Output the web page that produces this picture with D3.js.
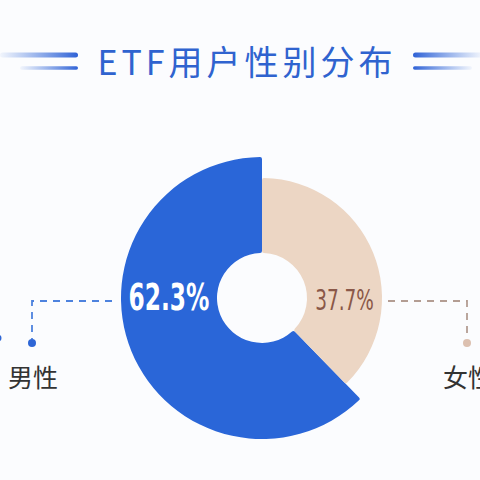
<!DOCTYPE html>
<html>
<head>
<meta charset="utf-8">
<script src="https://cdn.jsdelivr.net/npm/d3@7"></script>
<style>
  html, body { margin: 0; padding: 0; background: #fbfcfe; }
  svg { display: block; }
</style>
</head>
<body>
<div id="chart"></div>
<script>
// data
var title = "ETF用户性别分布";
var categories = ["男性", "女性"];
var shares = [62.3, 37.7];
var labels = ["62.3%", "37.7%"];

var W = 480, H = 480;
var cx = 262, cy = 298;
var innerR = 45;

var svg = d3.select('#chart').append('svg')
    .attr('width', W)
    .attr('height', H);

var defs = svg.append('defs');

svg.append('rect')
    .attr('width', W)
    .attr('height', H)
    .attr('fill', '#fbfcfe');

// gradients for the title bars
function barGrad(id, dir) {
  var g = defs.append('linearGradient').attr('id', id)
      .attr('x1', dir > 0 ? '0%' : '100%').attr('x2', dir > 0 ? '100%' : '0%')
      .attr('y1', '0%').attr('y2', '0%');
  g.append('stop').attr('offset', '0%').attr('stop-color', '#3f73dc').attr('stop-opacity', 0.05);
  g.append('stop').attr('offset', '100%').attr('stop-color', '#2f62d6').attr('stop-opacity', 1);
}
barGrad('gl', 1);
barGrad('gr', -1);

var bars = [
  {x1: 0, x2: 78, y: 55, w: 5, g: 'gl'},
  {x1: 20, x2: 78, y: 68, w: 3.5, g: 'gl'},
  {x1: 413, x2: 482, y: 55, w: 5, g: 'gr'},
  {x1: 413, x2: 472, y: 68, w: 3.5, g: 'gr'}
];
svg.append('g').selectAll('rect')
    .data(bars)
    .enter().append('rect')
    .attr('x', function (d) { return d.x1; })
    .attr('y', function (d) { return d.y - d.w / 2; })
    .attr('width', function (d) { return d.x2 - d.x1; })
    .attr('height', function (d) { return d.w; })
    .attr('rx', function (d) { return d.w / 2; })
    .attr('fill', function (d) { return 'url(#' + d.g + ')'; });

svg.append('text')
    .attr('x', 247)
    .attr('y', 75)
    .attr('text-anchor', 'middle')
    .attr('font-family', '"Noto Sans CJK SC", "Noto Sans", sans-serif')
    .attr('font-size', 34)
    .attr('letter-spacing', 4)
    .attr('fill', '#2f63cf')
    .text(title);

// donut
var colors = d3.scaleOrdinal().domain(categories).range(['#2a66d8', '#ecd6c4']);
var outerR = d3.scaleOrdinal().domain(categories).range([141, 120]);

var pie = d3.pie()
    .sort(null)
    .startAngle(0)
    .endAngle(-2 * Math.PI)
    .value(function (d) { return d.v; });

var rows = categories.map(function (c, i) { return {c: c, v: shares[i], label: labels[i]}; });
var arcs = pie(rows);

var g = svg.append('g').attr('transform', 'translate(' + cx + ',' + cy + ')');

g.selectAll('path')
    .data(arcs)
    .enter().append('path')
    .attr('fill', function (d) { return colors(d.data.c); })
    .attr('d', function (d) {
      return d3.arc().innerRadius(innerR).outerRadius(outerR(d.data.c)).cornerRadius(2)(d);
    });

// percent labels, placed horizontally across the ring, squeezed to a condensed look
var side = [-1, 1];
g.selectAll('g.pct')
    .data(arcs)
    .enter().append('g')
    .attr('class', 'pct')
    .attr('transform', function (d, i) {
      var x = side[i] * (innerR + outerR(d.data.c)) / 2;
      var y = i === 0 ? 12 : 12;
      var s = i === 0 ? 0.63 : 0.66;
      return 'translate(' + x + ',' + y + ') scale(' + s + ',1)';
    })
    .append('text')
    .attr('text-anchor', 'middle')
    .attr('font-family', '"DejaVu Sans", sans-serif')
    .attr('font-weight', function (d, i) { return i === 0 ? 'bold' : 'normal'; })
    .attr('font-size', function (d, i) { return i === 0 ? 37 : 28; })
    .attr('fill', function (d, i) { return i === 0 ? '#ffffff' : '#8a5848'; })
    .text(function (d) { return d.data.label; });

// connectors
var conn = [
  {hx1: 112, hx2: 32, vy: 343, col: '#4d82de', dot: '#2e66d6', lx: 8},
  {hx1: 388, hx2: 467, vy: 343, col: '#b39d93', dot: '#dcc0b0', lx: 443}
];
var cg = svg.append('g');
conn.forEach(function (c, i) {
  cg.append('path')
      .attr('d', 'M' + c.hx1 + ',301H' + c.hx2 + 'V' + (c.vy - 4))
      .attr('fill', 'none')
      .attr('stroke', c.col)
      .attr('stroke-width', 1.8)
      .attr('stroke-dasharray', '7,6');
  cg.append('circle')
      .attr('cx', c.hx2)
      .attr('cy', c.vy)
      .attr('r', 4)
      .attr('fill', c.dot);
  cg.append('text')
      .attr('x', c.lx)
      .attr('y', 387)
      .attr('font-family', '"Noto Sans CJK SC", sans-serif')
      .attr('font-size', 25)
      .attr('fill', '#333333')
      .text(categories[i]);
});
// edge of a dot cut off at the left border
cg.append('circle').attr('cx', -2).attr('cy', 338).attr('r', 3.5).attr('fill', '#2e66d6');
</script>
</body>
</html>
